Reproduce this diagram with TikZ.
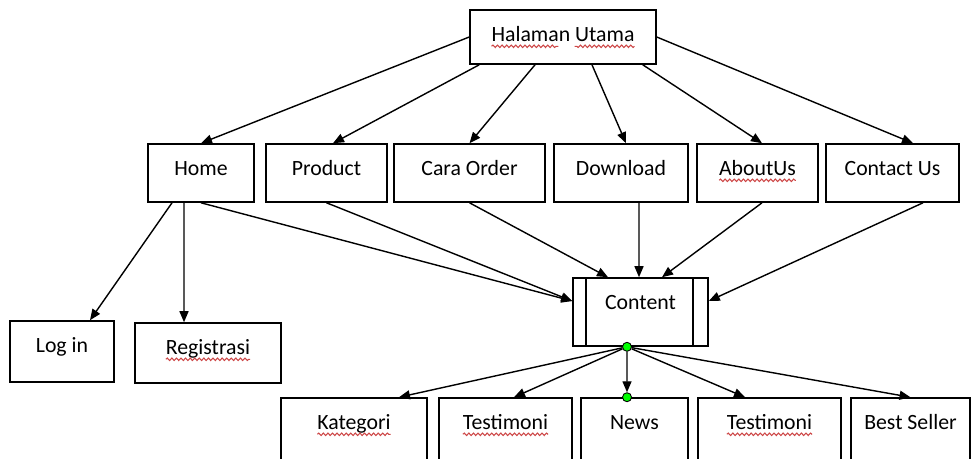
\documentclass[tikz,border=0pt]{standalone}
\usepackage{fontspec}
\setmainfont{Carlito}
\usetikzlibrary{arrows.meta,calc,decorations.pathmorphing}
\definecolor{spellred}{RGB}{205,70,70}
\newcommand\boxfont{\fontsize{12.4}{15}\selectfont}
\newcommand\spellunder[1]{%
  \draw[spellline] ([yshift=-3pt]#1.text) -- ([yshift=-3pt]$(#1.base)!-1!(#1.text)$);}
\tikzset{
  box/.style={shape=rectangle, draw=black, line width=0.9pt, inner ysep=0pt, text height=0.62cm, text depth=#1},
  dot/.style={shape=circle, draw=black, fill=green, inner sep=0pt, minimum size=0.18cm, line width=0.5pt},
  arr/.style={-{Triangle[length=0.22cm,width=0.18cm]}, line width=0.8pt},
  spellline/.style={draw=spellred, line width=0.6pt, decorate, decoration={snake, amplitude=0.7pt, segment length=2.6pt}}
}

\begin{document}
\begin{tikzpicture}[x=0.02cm, y=-0.02cm, font=\boxfont]
\useasboundingbox (0,0) rectangle (973,458);

\node[box=0.46cm, minimum width=3.72cm](main) at (563,37) {Halaman Utama};

\node[box=0.54cm, minimum width=2.12cm](home) at (201,173) {Home};
\node[box=0.54cm, minimum width=2.42cm](product) at (326.5,173) {Product};
\node[box=0.54cm, minimum width=3.02cm](caraorder) at (469.5,173) {Cara Order};
\node[box=0.54cm, minimum width=2.68cm](download) at (621,173) {Download};
\node[box=0.54cm, minimum width=2.42cm](aboutus) at (757.5,173) {AboutUs};
\node[box=0.54cm, minimum width=2.66cm](contactus) at (892.5,173) {Contact Us};

\node[box=0.74cm, minimum width=2.7cm](content) at (640.5,312) {Content};
\draw[line width=0.9pt] ([xshift=0.28cm]content.north west) -- ([xshift=0.28cm]content.south west);
\draw[line width=0.9pt] ([xshift=-0.32cm]content.north east) -- ([xshift=-0.32cm]content.south east);

\node[box=0.60cm, minimum width=2.08cm](login) at (62,351.5) {Log in};
\node[box=0.58cm, minimum width=2.92cm](registrasi) at (208,353) {Registrasi};

\node[box=0.66cm, minimum width=2.92cm](kategori) at (354,430) {Kategori};
\node[box=0.66cm, minimum width=2.66cm](testimonia) at (505.5,430) {Testimoni};
\node[box=0.66cm, minimum width=2.14cm](news) at (634.5,430) {News};
\node[box=0.66cm, minimum width=2.86cm](testimonib) at (769.5,430) {Testimoni};
\node[box=0.66cm, minimum width=2.38cm](bestseller) at (910.5,430) {Best Seller};

\node[dot](hubdot) at ([xshift=-0.27cm]content.south) {};
\node[dot](newsdot) at ([xshift=-0.15cm]news.north) {};

\draw[spellline] ([yshift=-3pt]main.text) -- ++(38pt,0pt);
\draw[spellline] ([yshift=-3pt]$(main.base)!-1!(main.text)$) -- ++(-34pt,0pt);
\spellunder{aboutus}
\spellunder{registrasi}
\spellunder{kategori}
\spellunder{testimonia}
\spellunder{testimonib}

\path[arr] (main.west) edge (home.north);
\path[arr] ([xshift=0.2cm]main.south west) edge ([xshift=0.13cm]product.north);
\path[arr] ([xshift=-0.56cm]main.south) edge (caraorder.north);
\path[arr] ([xshift=0.58cm]main.south) edge ([xshift=0.1cm]download.north);
\path[arr] ([xshift=-0.28cm]main.south east) edge ([xshift=0.09cm]aboutus.north);
\path[arr] (main.east) edge ([xshift=0.41cm]contactus.north);

\path[arr] (home.south) edge ([yshift=0.22cm]content.west);
\path[arr] (product.south) edge ([yshift=0.22cm]content.west);
\path[arr] (caraorder.south) edge ([xshift=-0.65cm]content.north);
\path[arr] ([xshift=0.36cm]download.south) edge ([xshift=-0.03cm]content.north);
\path[arr] ([xshift=0.09cm]aboutus.south) edge ([xshift=0.43cm]content.north);
\path[arr] ([xshift=0.61cm]contactus.south) edge ([yshift=0.22cm]content.east);

\path[arr] ([xshift=-0.58cm]home.south) edge ([xshift=0.56cm]login.north);
\path[arr] ([xshift=-0.34cm]home.south) edge ([xshift=-0.48cm]registrasi.north);

\path[arr] (hubdot) edge ([xshift=0.9cm]kategori.north);
\path[arr] (hubdot) edge ([xshift=0.17cm]testimonia.north);
\path[arr] (hubdot) edge (newsdot);
\path[arr] (hubdot) edge ([xshift=-0.49cm]testimonib.north);
\path[arr] (hubdot) edge (bestseller.north);
\end{tikzpicture}
\end{document}
